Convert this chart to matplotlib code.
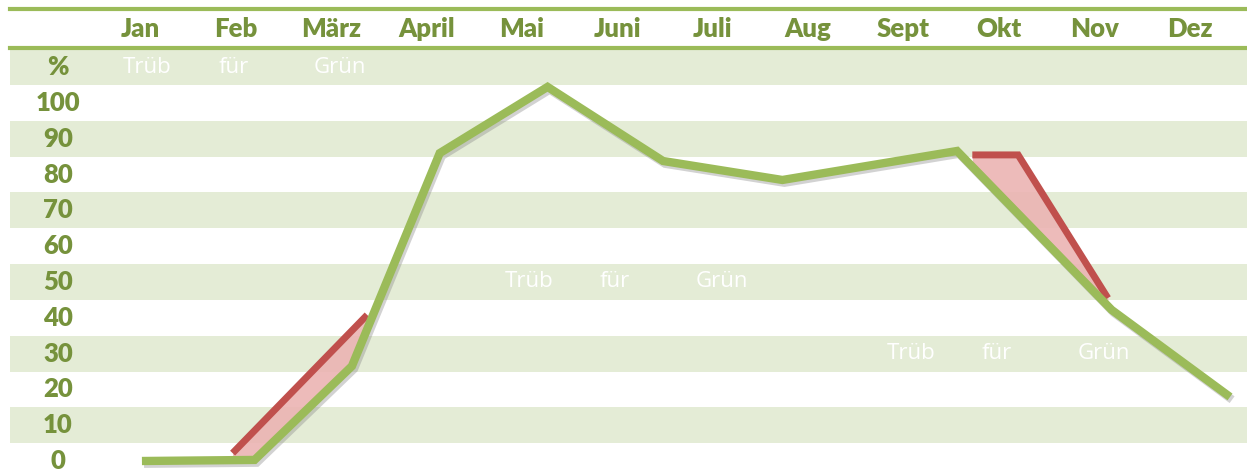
import numpy as np
import matplotlib
matplotlib.use("Agg")
import matplotlib.pyplot as plt
import matplotlib.patheffects as pe

# Monate (Spaltenkopf) und Prozent-Zeilen
monate = ["Jan", "Feb", "März", "April", "Mai", "Juni", "Juli", "Aug",
          "Sept", "Okt", "Nov", "Dez"]
prozent = [100, 90, 80, 70, 60, 50, 40, 30, 20, 10, 0]

# gruene Linie (x in Monatsspalten, y in %)
gruen_x = [0.02, 1.20, 2.22, 3.14, 4.27, 5.48, 6.73, 8.56, 10.18, 11.42]
gruen_y = [0.0, 0.3, 26.5, 86.0, 104.5, 83.8, 78.5, 86.6, 42.2, 17.9]

# rote Abschnitte
rot1_x = [0.97, 2.38]
rot1_y = [2.2, 40.8]
rot2_x = [8.72, 9.20, 10.14]
rot2_y = [85.5, 85.5, 45.5]

# weisse Woerter: (erste Spalte, Zeile in %)
woerter = ["Trüb", "für", "Grün"]
wort_zeilen = [(0, 110), (4, 50), (8, 30)]

txt_farbe = "#76923C"
linie_farbe = "#9BBB59"
band_farbe = "#E4ECD6"
rot_farbe = "#C0504D"
rosa = "#EBB4B3"

plt.rcParams["font.family"] = ["Lato", "DejaVu Sans"]

fig = plt.figure(figsize=(12.47, 4.75), dpi=100)
ax = fig.add_axes([0, 0, 1, 1])
ax.set_xlim(-1.467, 11.598)
ax.set_ylim(-3.91, 128.77)
ax.axis("off")

# Zeilenbaender (jede zweite Zeile hellgruen)
links, rechts = -1.36, 11.6
for mitte in [110, 90, 70, 50, 30, 10]:
    ax.fill_between([links, rechts], mitte - 5, mitte + 5, color=band_farbe, lw=0, zorder=0)

# Kopfzeilen-Linien
ax.plot([links, rechts], [126.3, 126.3], color=linie_farbe, lw=3, zorder=1)
ax.plot([links, rechts], [115.4, 115.4], color=linie_farbe, lw=3, zorder=1)

# Monatsnamen
for i, m in enumerate(monate):
    ax.text(i, 120.8, m, ha="center", va="center", fontsize=18.5,
            fontweight="heavy", color=txt_farbe)

# Prozent-Beschriftung
ax.text(-0.86, 110, "%", ha="center", va="center", fontsize=18.5,
        fontweight="heavy", color=txt_farbe)
for p in prozent:
    ax.text(-0.86, p, str(p), ha="center", va="center", fontsize=18.5,
            fontweight="heavy", color=txt_farbe)

# weisse Woerter
for start, zeile in wort_zeilen:
    for k, w in enumerate(woerter):
        ax.text(start + k - 0.18, zeile, w, ha="left", va="center",
                fontsize=16, color="white", family=["Open Sans", "DejaVu Sans"],
                zorder=2)

schatten = [pe.SimpleLineShadow(offset=(1.5, -2), shadow_color="gray", alpha=0.35),
            pe.Normal()]

# rote Flaechen zwischen rot und gruen
for rx, ry in [(rot1_x, rot1_y), (rot2_x, rot2_y)]:
    xs = np.array(sorted(set(rx) | {x for x in gruen_x if rx[0] < x < rx[-1]}))
    ax.fill_between(xs, np.interp(xs, rx, ry), np.interp(xs, gruen_x, gruen_y),
                    color=rosa, lw=0, alpha=0.9, zorder=3)
    ax.plot(rx, ry, color=rot_farbe, lw=5, solid_capstyle="butt",
            solid_joinstyle="miter", zorder=4)

ax.plot(gruen_x, gruen_y, color=linie_farbe, lw=6, solid_capstyle="butt",
        solid_joinstyle="miter", path_effects=schatten, zorder=5)

fig.savefig("out.png", dpi=100)
